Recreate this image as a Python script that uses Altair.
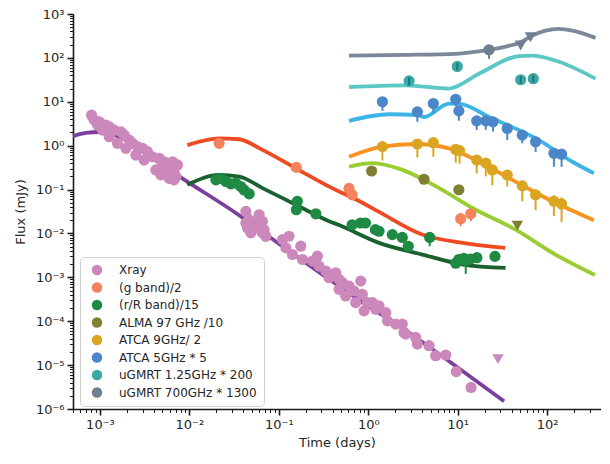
import altair as alt
import pandas as pd

# ---------------- data ----------------
series_names = ["Xray", "(g band)/2", "(r/R band)/15", "ALMA 97 GHz /10",
                "ATCA 9GHz/ 2", "ATCA 5GHz * 5", "uGMRT 1.25GHz * 200",
                "uGMRT 700GHz * 1300"]
point_colors = ["#cc88bb", "#f4825c", "#1e8a44", "#808033",
                "#daa520", "#4a86c8", "#3aa8a4", "#6f7f91"]
line_colors = ["#7b3f9e", "#ef4a22", "#19612f", "#9acd32",
               "#f7931e", "#3db4e6", "#5cc8c6", "#7a8898"]

xray_t = [8.06e-4, 8.64e-4, 9.4e-4, 9.82e-4, 1.07e-3, 1.166e-3, 1.27e-3, 1.27e-3,
          1.445e-3, 1.57e-3, 1.715e-3, 1.87e-3, 1.95e-3, 2.13e-3, 2.32e-3, 2.52e-3,
          2.63e-3, 2.99e-3, 3.12e-3, 3.40e-3, 3.87e-3, 4.22e-3, 4.60e-3, 4.80e-3,
          5.01e-3, 5.23e-3, 5.46e-3, 5.95e-3, 5.95e-3, 6.48e-3, 6.76e-3, 6.76e-3,
          7.06e-3, 7.36e-3,
          0.0428, 0.0466, 0.0446, 0.0487, 0.053, 0.0603, 0.0656, 0.0685, 0.0715,
          0.0629, 0.0428, 0.0507, 0.0656, 0.110, 0.130, 0.120, 0.142, 0.176, 0.184,
          0.238, 0.270, 0.282, 0.335, 0.365, 0.433, 0.472, 0.472, 0.514, 0.560,
          0.610, 0.693, 0.724, 0.824, 0.86, 0.898, 0.977, 1.11, 1.21, 1.32, 1.57,
          1.64, 2.03, 2.40, 2.51, 2.62, 3.39, 3.54, 4.78, 5.67, 7.35, 9.64, 14.1]
xray_f = [4.95, 3.81, 2.94, 3.50, 2.26, 2.94, 2.69, 1.60,
          2.26, 1.13, 2.07, 1.74, 0.87, 1.34, 1.13, 0.61,
          0.95, 0.87, 0.47, 0.73, 0.56, 0.28, 0.515, 0.216,
          0.397, 0.43, 0.333, 0.28, 0.18, 0.43, 0.235, 0.166,
          0.198, 0.364,
          0.0318, 0.0206, 0.0133, 0.0103, 0.0173, 0.0267, 0.0189, 0.0122, 0.0086,
          0.0146, 0.0173, 0.0122, 0.0103, 0.00724, 0.00863, 0.00469, 0.00331, 0.00512, 0.00255,
          0.00234, 0.00303, 0.0018, 0.00139, 9.8e-4, 1.27e-3, 8.97e-4, 5.32e-4, 7.55e-4, 3.76e-4,
          6.34e-4, 4.89e-4, 2.66e-4, 8.2e-4, 4.1e-4, 1.72e-4, 2.66e-4, 2.66e-4, 1.87e-4, 2.23e-4, 1.57e-4,
          1.02e-4, 8.57e-5, 8.57e-5, 5.55e-5, 5.1e-5, 4.27e-5, 3.01e-5, 2.77e-5, 1.64e-5, 1.7e-5, 7.1e-6, 3.1e-6]
xray_model_t = [5e-4, 7e-4, 1e-3, 1.4e-3, 2e-3, 3e-3, 5e-3, 8e-3, 0.036, 0.094, 0.3, 1.0, 2.2, 10, 33]
xray_model_f = [1.65, 1.95, 2.05, 1.8, 1.3, 0.75, 0.36, 0.19, 0.026, 0.0064, 0.0012, 2.2e-4, 7.9e-5, 8.8e-6, 1.5e-6]
xray_lim_t = [28.2]
xray_lim_f = [1.37e-5]

g_t = [0.0215, 0.157, 0.61, 0.66, 10.8, 14.0]
g_f = [1.13, 0.32, 0.106, 0.076, 0.0217, 0.028]
g_lo = [1.0, 0.29, 0.095, 0.068, 0.0147, 0.019]
g_hi = [1.25, 0.35, 0.118, 0.085, 0.026, 0.032]
g_model_t = [0.0095, 0.0215, 0.036, 0.0656, 0.155, 0.365, 0.86, 1.32, 4.0, 11.4, 34]
g_model_f = [1.03, 1.47, 1.40, 0.80, 0.305, 0.117, 0.05, 0.031, 0.0095, 0.0061, 0.0047]

r_t = [0.0198, 0.0225, 0.0256, 0.0291, 0.0331, 0.0376, 0.0409, 0.0466, 0.161, 0.157,
       0.259, 0.66, 0.82, 0.93, 1.2, 1.32, 1.86, 2.4, 2.8, 4.86, 9.5, 10.3, 11.7, 12.3,
       13.9, 16.4, 26.1]
r_f = [0.166, 0.181, 0.153, 0.135, 0.14, 0.117, 0.098, 0.08, 0.054, 0.0347,
       0.028, 0.0158, 0.0173, 0.0173, 0.0122, 0.0112, 0.0094, 0.0081, 0.0051, 0.0081,
       0.0021, 0.00255, 0.0027, 0.0024, 0.0026, 0.0028, 0.003]
r_lo = [0.15, 0.165, 0.14, 0.123, 0.128, 0.107, 0.089, 0.073, 0.049, 0.031,
        0.025, 0.0143, 0.0157, 0.0157, 0.011, 0.0101, 0.0085, 0.0073, 0.0046, 0.0051,
        0.0019, 0.0023, 0.0024, 0.0012, 0.0023, 0.0025, 0.0027]
r_hi = [0.183, 0.2, 0.168, 0.149, 0.154, 0.129, 0.108, 0.088, 0.059, 0.038,
        0.031, 0.0174, 0.019, 0.019, 0.0134, 0.0123, 0.0103, 0.0089, 0.0056, 0.0089,
        0.0023, 0.0028, 0.003, 0.0027, 0.0029, 0.0031, 0.0033]
r_model_t = [0.0095, 0.0215, 0.036, 0.0656, 0.155, 0.365, 0.472, 1.32, 4.03, 11.4, 34.3]
r_model_f = [0.128, 0.215, 0.197, 0.108, 0.045, 0.019, 0.0155, 0.0061, 0.0033, 0.00196, 0.00165]

alma_t = [1.09, 4.2, 10.3]
alma_f = [0.265, 0.172, 0.099]
alma_lim_t = [46.4]
alma_lim_f = [0.015]
alma_model_t = [0.61, 1.11, 2.2, 6.2, 14.6, 44.4, 124, 342]
alma_model_f = [0.334, 0.40, 0.30, 0.108, 0.038, 0.0122, 0.0033, 0.00113]

a9_t = [1.44, 3.54, 5.34, 9.5, 10.5, 16.3, 20.6, 24.4, 35.8, 52.7, 74.3, 119, 145]
a9_f = [0.95, 1.09, 1.17, 0.82, 0.77, 0.47, 0.40, 0.28, 0.215, 0.121, 0.076, 0.054, 0.047]
a9_lo = [0.46, 0.54, 0.56, 0.41, 0.39, 0.235, 0.2, 0.125, 0.117, 0.054, 0.034, 0.025, 0.018]
a9_hi = [1.25, 1.4, 1.5, 1.05, 1.0, 0.6, 0.52, 0.37, 0.28, 0.16, 0.1, 0.075, 0.066]
a9_model_t = [0.61, 1.44, 3.4, 8.0, 17.3, 40.8, 114, 333]
a9_model_f = [0.56, 0.95, 1.09, 0.87, 0.43, 0.166, 0.054, 0.02]

a5_t = [1.44, 3.54, 5.34, 9.5, 10.3, 16.3, 20.6, 24.8, 35.8, 52.7, 74.3, 119, 145]
a5_f = [10, 5.9, 9.1, 11.4, 6.2, 3.68, 3.68, 3.5, 2.47, 1.74, 1.23, 0.67, 0.64]
a5_lo = [6.2, 3.5, 5.6, 8.0, 3.7, 2.27, 2.3, 2.1, 1.35, 1.13, 0.72, 0.33, 0.33]
a5_hi = [12, 7, 11, 13.5, 7.5, 4.5, 4.5, 4.3, 3.0, 2.1, 1.5, 0.85, 0.8]
a5_model_t = [0.61, 1.7, 3.6, 4.2, 8.0, 10.5, 22.4, 81, 191, 333]
a5_model_f = [3.68, 5.2, 5.0, 4.5, 9.1, 9.0, 4.5, 1.34, 0.43, 0.235]

g125_t = [2.86, 9.9, 50.6, 70]
g125_f = [29.8, 63.8, 31.8, 33.6]
g125_lo = [24, 52, 26, 27.5]
g125_hi = [36, 77, 38.5, 40.5]
g125_model_t = [0.61, 2.62, 8.0, 17.3, 48.4, 68, 124, 347]
g125_model_f = [21.7, 23.7, 20, 43.6, 110, 113, 87, 33.6]

g700_t = [22.4]
g700_f = [153]
g700_lo = [95]
g700_hi = [175]
g700_lim_t = [50.6, 65]
g700_lim_f = [191, 296]
g700_model_t = [0.61, 2.62, 9.5, 14.6, 22.4, 34.3, 50.6, 68, 96, 135, 191, 347]
g700_model_f = [113, 117, 124, 135, 153, 181, 228, 322, 419, 457, 419, 286]

# ---------------- tables ----------------
pts = [(xray_t, xray_f), (g_t, g_f), (r_t, r_f), (alma_t, alma_f), (a9_t, a9_f),
       (a5_t, a5_f), (g125_t, g125_f), (g700_t, g700_f)]
models = [(xray_model_t, xray_model_f), (g_model_t, g_model_f), (r_model_t, r_model_f),
          (alma_model_t, alma_model_f), (a9_model_t, a9_model_f), (a5_model_t, a5_model_f),
          (g125_model_t, g125_model_f), (g700_model_t, g700_model_f)]

rows = []
for name, (ts, fs) in zip(series_names, pts):
    for t, f in zip(ts, fs):
        rows.append({"t": t, "f": f, "series": name})
points_df = pd.DataFrame(rows)

rows = []
for name, col, (ts, fs) in zip(series_names, line_colors, models):
    for t, f in zip(ts, fs):
        rows.append({"t": t, "f": f, "series": name, "lc": col})
lines_df = pd.DataFrame(rows)

err_sets = [(g_t, g_lo, g_hi, point_colors[1]), (r_t, r_lo, r_hi, point_colors[2]),
            (a9_t, a9_lo, a9_hi, point_colors[4]), (a5_t, a5_lo, a5_hi, point_colors[5]),
            (g700_t, g700_lo, g700_hi, point_colors[7])]
rows = []
for ts, los, his, col in err_sets:
    for t, lo, hi in zip(ts, los, his):
        rows.append({"t": t, "lo": lo, "hi": hi, "ec": col})
err_df = pd.DataFrame(rows)
teal_err_df = pd.DataFrame({"t": g125_t, "lo": g125_lo, "hi": g125_hi})

rows = []
for ts, fs, col in [(xray_lim_t, xray_lim_f, point_colors[0]),
                    (alma_lim_t, alma_lim_f, point_colors[3]),
                    (g700_lim_t, g700_lim_f, point_colors[7])]:
    for t, f in zip(ts, fs):
        rows.append({"t": t, "f": f, "c": col})
lim_df = pd.DataFrame(rows)

# ---------------- axes helpers ----------------
sup = str.maketrans("-0123456789", "⁻⁰¹²³⁴⁵⁶⁷⁸⁹")
L = "(log(datum.value)/LN10)"
def label_expr(exps):
    e = "''"
    for k in reversed(exps):
        e = f"(abs({L}-({k}))<0.001) ? '10{str(k).translate(sup)}' : {e}"
    return e

is_major = f"abs({L}-round({L}))<0.001"
tick_size = {"condition": {"test": is_major, "value": 6}, "value": 3.5}
tick_width = {"condition": {"test": is_major, "value": 1.6}, "value": 1.0}

def minor_vals(lo_exp, hi_exp, vmin, vmax):
    out = []
    for k in range(lo_exp, hi_exp + 1):
        for m in range(1, 10):
            v = m * 10 ** k
            if vmin * 0.999 <= v <= vmax * 1.001:
                out.append(float(f"{v:.3g}"))
    return out

xdom = [5e-4, 400]
ydom = [1e-6, 1e3]
xvals = minor_vals(-4, 2, *xdom)
yvals = minor_vals(-6, 3, *ydom)

x_enc = alt.X("t:Q", scale=alt.Scale(type="log", domain=xdom, nice=False),
              axis=alt.Axis(title="Time (days)", values=xvals,
                            labelExpr=label_expr([-3, -2, -1, 0, 1, 2]),
                            labelOverlap=False, labelFlush=False,
                            tickSize=tick_size, tickWidth=tick_width,
                            titlePadding=5))
y_axis = alt.Axis(title="Flux (mJy)", values=yvals,
                  labelExpr=label_expr(list(range(-6, 4))),
                  labelOverlap=False, labelFlush=False,
                  tickSize=tick_size, tickWidth=tick_width, titlePadding=8)
y_scale = alt.Scale(type="log", domain=ydom, nice=False)

lines = alt.Chart(lines_df).mark_line(strokeWidth=3.8, interpolate="monotone").encode(
    x=x_enc,
    y=alt.Y("f:Q", scale=y_scale, axis=y_axis),
    color=alt.Color("lc:N", scale=None),
    detail="series:N",
)

errs = alt.Chart(err_df).mark_rule(strokeWidth=2).encode(
    x="t:Q", y="lo:Q", y2="hi:Q", color=alt.Color("ec:N", scale=None))

points = alt.Chart(points_df).mark_circle(opacity=1, size=125).encode(
    x="t:Q", y="f:Q",
    fill=alt.Fill("series:N", scale=alt.Scale(domain=series_names, range=point_colors),
                  sort=series_names,
                  legend=alt.Legend(title=None, orient="none", legendX=7, legendY=243,
                                    fillColor="white", strokeColor="#d0d0d0",
                                    cornerRadius=4, padding=7, labelFontSize=12,
                                    labelFont="DejaVu Sans", labelColor="#262626",
                                    symbolSize=110, symbolType="circle",
                                    symbolStrokeWidth=0, rowPadding=5.5,
                                    labelOffset=16, symbolOffset=4,
                                    labelLimit=300)),
)

teal_errs = alt.Chart(teal_err_df).mark_rule(strokeWidth=2, color="#1f7470").encode(
    x="t:Q", y="lo:Q", y2="hi:Q")

lims = alt.Chart(lim_df).mark_point(shape="triangle-down", filled=True, opacity=1,
                                    size=130).encode(
    x="t:Q", y="f:Q", color=alt.Color("c:N", scale=None))

chart = alt.layer(lines, errs, points, teal_errs, lims).properties(
    width=528, height=395,
    autosize=alt.AutoSizeParams(type="none"),
    padding={"left": 65, "top": 6, "right": 0, "bottom": 45},
).configure_view(stroke=None).configure_axis(
    grid=False, domainColor="#1a1a1a", domainWidth=1.6, tickColor="#1a1a1a",
    labelFont="DejaVu Sans", labelFontSize=13, labelColor="#262626",
    titleFont="DejaVu Sans", titleFontSize=13, titleFontWeight="normal",
    titleColor="#262626", labelPadding=3,
)

chart.save("out.html", embed_options={"renderer": "svg", "actions": False})
